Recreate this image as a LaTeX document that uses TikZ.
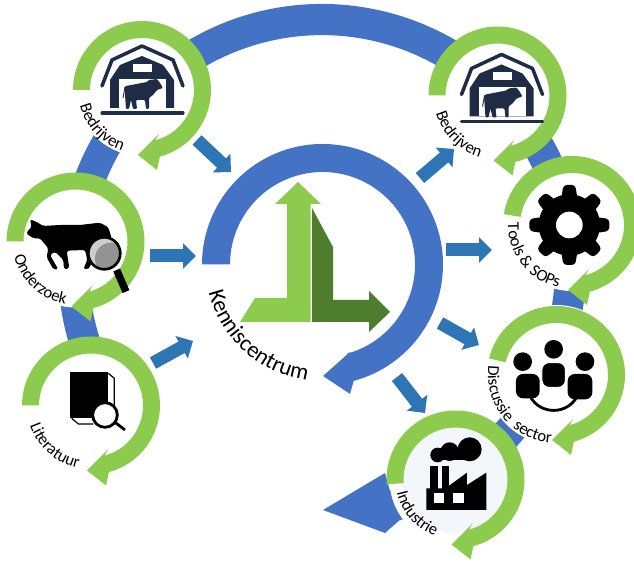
\documentclass[tikz,border=0pt]{standalone}
\usepackage{fontspec}
\setmainfont{Carlito}
\usetikzlibrary{arrows.meta,decorations.text,calc}
\definecolor{ringgreen}{HTML}{8CCB4E}
\definecolor{darkgreen}{HTML}{4F7D2E}
\definecolor{ringblue}{HTML}{4472C4}
\definecolor{flowblue}{HTML}{2E75B6}
\definecolor{barnblue}{HTML}{1E2D45}
\definecolor{palefill}{HTML}{F3F6FA}
\tikzset{
  flow/.style={line width=0.26cm,flowblue,-{Triangle[length=0.26cm,width=0.5cm]}},
  ringzoom/.style={xscale=0.3333,yscale=-0.3333}
}
\newcommand{\ringarrow}[3][white]{
  \begin{scope}[shift={(#2)}]
  \fill[white] (0,0) circle[radius=66];
  \fill[#1] (0,0) circle[radius=54];
  \fill[ringgreen] (#3:69) arc[start angle=#3,end angle=-75,radius=69] -- (15,-80) -- (-4,-65) -- (17,-44) -- (-75:52) arc[start angle=-75,end angle=#3,radius=52] -- cycle;
  \end{scope}
}
\newcommand{\ringlabel}[5]{
  \pgfmathsetmacro{\labelstart}{#3-60}
  \pgfmathsetmacro{\labelend}{#3+60}
  \path[decorate,decoration={text along path,text align=center,text={|\fontsize{#4}{#4}\selectfont|#5}}]
    ([shift={(\labelstart:#2)}]#1) arc[start angle=\labelstart,end angle=\labelend,radius=#2];
}
\newcommand{\barnicon}[1]{
  \begin{scope}[shift={(#1)}]
  \draw[barnblue,line width=2pt,line join=round,line cap=round] (-40,4)--(-30,30)--(0,44)--(31,30)--(41,4);
  \fill[barnblue] (-32,-18)--(-32,10)--(-22,25)--(0,34)--(21,25)--(32,10)--(32,-18)--cycle;
  \fill[white] (-23,11) rectangle (24,-18);
  \fill[white] (-9,26) rectangle (10,18);
  \draw[barnblue,line width=1.8pt,line cap=round] (-40,-23)--(41,-23);
  \fill[barnblue,rounded corners=0.6pt] (-16,4)--(5,8)--(7,10)--(15,11)--(18,7)--(21,2)--(15,0)--(11,-5)--(7,-8)--(7,-19)--(4,-19)--(3,-10)--(-6,-10)--(-5,-19)--(-9,-19)--(-11,-10)--(-13,-19)--(-16,-19)--(-17,-5)--(-17.5,3)--cycle;
  \draw[barnblue,line width=0.5pt] (-17,3)--(-19,-8);
  \end{scope}
}
\begin{document}
\begin{tikzpicture}[x=0.02cm,y=0.02cm]
\useasboundingbox (0,0) rectangle (634,563);
\coordinate (kennis) at (322.5,298.5);
\coordinate (bedrijvenA) at (142,473);
\coordinate (bedrijvenB) at (497.5,467.5);
\coordinate (onderzoek) at (75.5,321.5);
\coordinate (literatuur) at (91,157.5);
\coordinate (tools) at (572,338);
\coordinate (discussie) at (556,188);
\coordinate (industrie) at (455.5,83.5);

\fill[ringblue] (322,295)++(211:264) arc[start angle=211,end angle=-73,radius=264] -- (385,30) -- (323,53) -- (385,90) -- (322+68,295-223) arc[start angle=-73,end angle=211,radius=233] -- cycle;
\fill[white] (discussie) circle[radius=70];

\ringarrow{bedrijvenA}{180}
\ringarrow{bedrijvenB}{180}
\ringarrow{onderzoek}{180}
\ringarrow{literatuur}{180}
\ringarrow{tools}{171}
\ringarrow{discussie}{166}
\ringarrow[palefill]{industrie}{184}

\begin{scope}[shift={(kennis)}]
\fill[ringblue] (180:120.5) arc[start angle=180,end angle=-75,radius=120.5] -- (27.5,-129.5) -- (0.5,-111.5) -- (27.5,-87.5) -- (-75:92.5) arc[start angle=-75,end angle=180,radius=92.5] -- cycle;
\end{scope}

\fill[ringgreen] (298,381) -- (275,359) -- (287,359) -- (287,265) -- (255,265) -- (240,241) -- (310.5,241) -- (310.5,359) -- (321,359) -- cycle;
\fill[darkgreen] (312,355) -- (333,316) -- (333,263) -- (369,263) -- (369,272) -- (390,251) -- (369,231) -- (369,241) -- (312,241) -- cycle;

\coordinate (a1) at (197,423); \coordinate (a2) at (231,391);
\coordinate (b1) at (150,307); \coordinate (b2) at (196,307);
\coordinate (c1) at (153,200); \coordinate (c2) at (193,222);
\coordinate (d1) at (420,385); \coordinate (d2) at (454,414);
\coordinate (e1) at (446,313); \coordinate (e2) at (492,313);
\coordinate (f1) at (440,240); \coordinate (f2) at (479,218);
\coordinate (g1) at (397,186); \coordinate (g2) at (425,150);
\draw[flow] (a1) -- (a2);
\draw[flow] (b1) -- (b2);
\draw[flow] (c1) -- (c2);
\draw[flow] (d1) -- (d2);
\draw[flow] (e1) -- (e2);
\draw[flow] (f1) -- (f2);
\draw[flow] (g1) -- (g2);

\barnicon{bedrijvenA}
\barnicon{$(bedrijvenB)+(4,-3)$}

\begin{scope}[shift={(0,393)},ringzoom]
\fill[black,rounded corners=1pt] (78,190)--(95,170)--(90,148)--(108,155)--(130,168)--(180,165)--(240,165)--(300,158)--(325,172)--(335,205)--(290,260)--(270,285)--(270,295)--(250,298)--(262,270)--(255,240)--(200,242)--(208,295)--(192,298)--(190,270)--(165,245)--(150,255)--(175,298)--(160,298)--(140,262)--(145,235)--(120,205)--(100,205)--cycle;
\draw[black,line width=4.2pt] (350,300)--(378,365);
\fill[gray!40] (313,250) circle[radius=48];
\begin{scope}
\clip (313,250) circle[radius=48];
\fill[gray!85] (333,266) circle[radius=48];
\end{scope}
\draw[black,line width=1.5pt] (313,250) circle[radius=48];
\end{scope}

\begin{scope}[shift={(0,283)},ringzoom]
\fill[black] (210,277) rectangle (325,415);
\draw[black,line width=0.7pt] (325,280)--(343,295)--(343,395);
\draw[black,line width=0.7pt] (215,415)--(235,432)--(280,432);
\fill[white] (315,405) circle[radius=37];
\draw[black,line width=1.6pt] (315,405) circle[radius=37];
\draw[black,line width=1.6pt] (345,427)--(375,450);
\end{scope}

\begin{scope}[shift={(490,413)},ringzoom]
\fill[black] (238,225) circle[radius=92];
\foreach \a in {0,45,...,315}
  \fill[black,shift={(238,225)},rotate=\a,rounded corners=2pt] (-24,80) -- (-18,120) -- (18,120) -- (24,80) -- cycle;
\fill[white] (238,225) circle[radius=40];
\end{scope}

\begin{scope}[shift={(317,283)},ringzoom]
\draw[black,line width=1.6pt] (640,350) .. controls (670,405) and (750,405) .. (780,350);
\fill[black] (710,208) circle[radius=28];
\fill[black] (617,245) circle[radius=28];
\fill[black] (804,245) circle[radius=28];
\fill[black,rounded corners=4pt] (597,282) rectangle (668,355);
\fill[black,rounded corners=4pt] (752,282) rectangle (826,358);
\draw[white,fill=black,line width=0.5pt,rounded corners=4pt] (675,248) rectangle (745,322);
\end{scope}

\begin{scope}[shift={(317,283)},ringzoom]
\fill[black] (458,508) circle[radius=36];
\fill[black] (398,515) circle[radius=28];
\fill[black] (362,525) circle[radius=22];
\fill[black] (362,505) rectangle (460,540);
\fill[black] (340,558) rectangle (362,640);
\fill[black] (375,558) rectangle (397,640);
\fill[black] (328,690) -- (328,625) -- (395,625) -- (395,618) -- (450,578) -- (450,615) -- (508,578) -- (508,690) -- cycle;
\fill[white] (350,640) rectangle (380,668);
\fill[white] (408,640) rectangle (440,668);
\end{scope}

\ringlabel{kennis}{117}{228}{13}{Kenniscentrum}
\ringlabel{bedrijvenA}{64}{223}{9.5}{Bedrijven}
\ringlabel{bedrijvenB}{64}{225}{9.5}{Bedrijven}
\ringlabel{onderzoek}{63}{227}{9.5}{Onderzoek}
\ringlabel{literatuur}{64}{228}{9.5}{Literatuur}
\ringlabel{tools}{64}{218}{9.5}{Tools {\&} SOPs}
\ringlabel{discussie}{68}{219}{9.5}{Discussie{\ }{\ }sector}
\ringlabel{industrie}{60}{221}{9.5}{Industrie}
\end{tikzpicture}
\end{document}
